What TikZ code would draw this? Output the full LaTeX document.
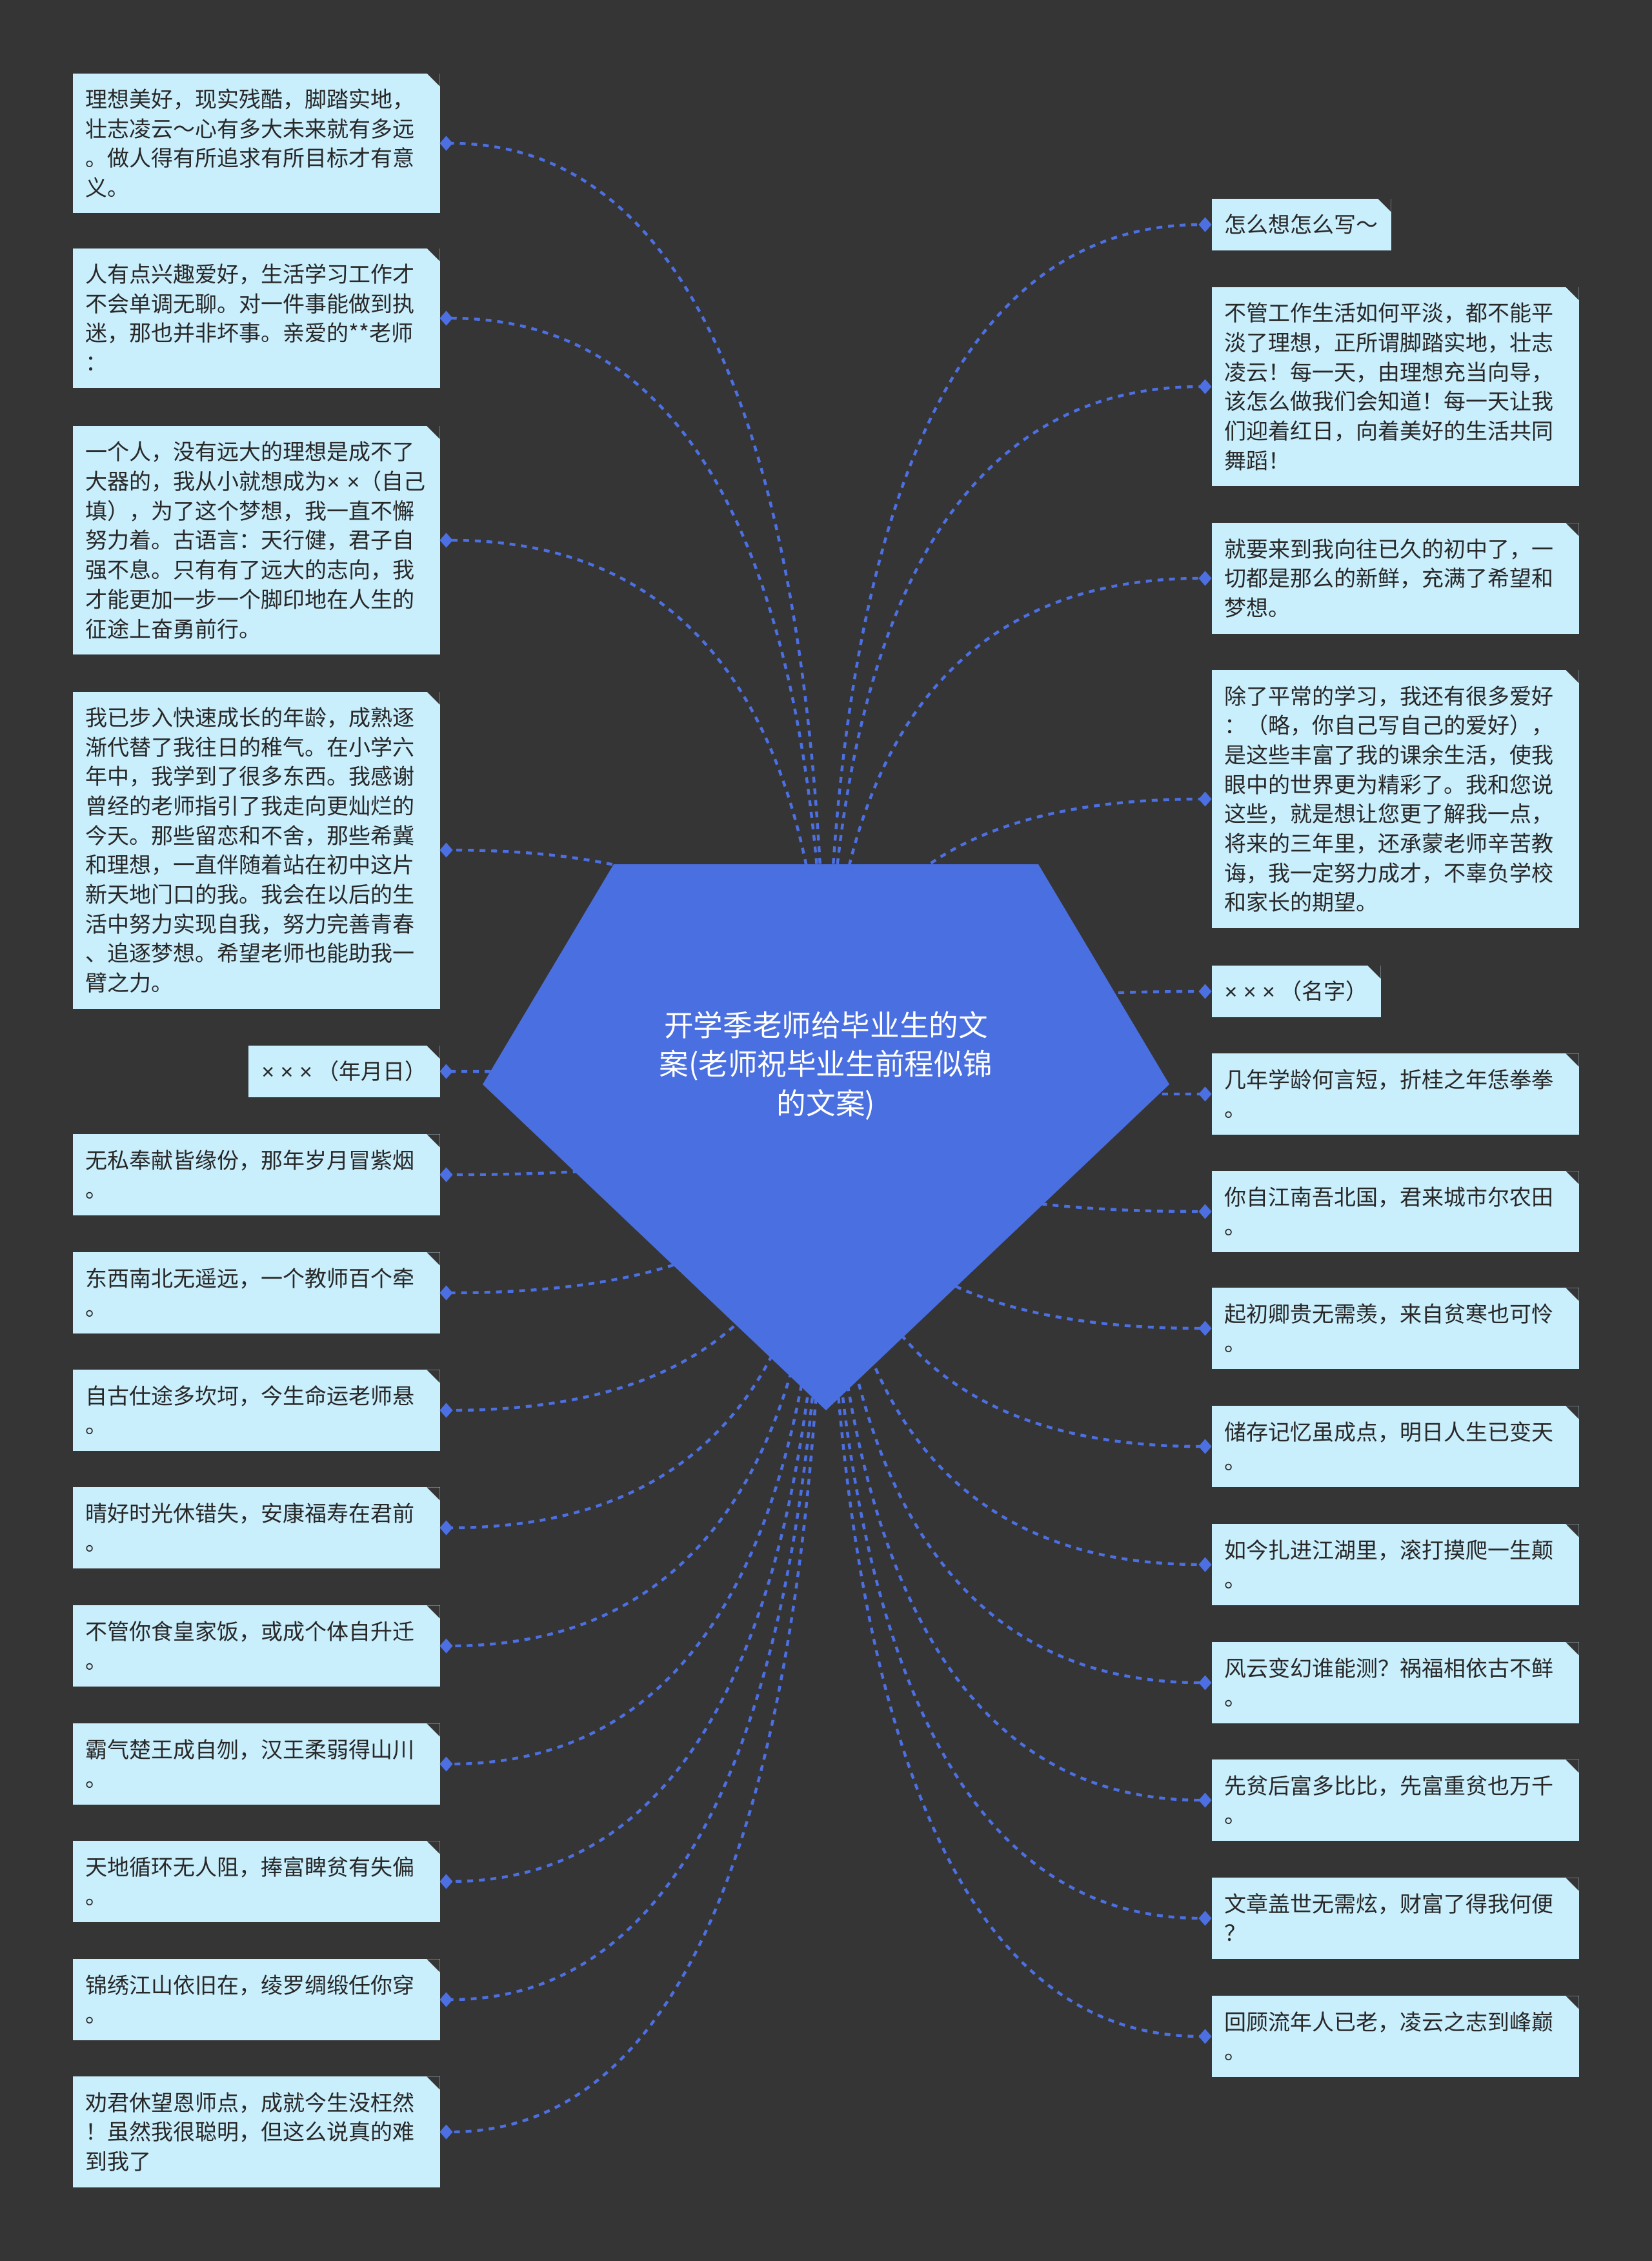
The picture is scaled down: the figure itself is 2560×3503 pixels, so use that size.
\documentclass[tikz,border=0pt]{standalone}
\usepackage{fontspec}
\setmainfont{Noto Sans CJK SC}
\newfontfamily\crossfont{Liberation Sans}
\usetikzlibrary{arrows.meta,calc}
\newcommand{\cardstrut}{\rule[-2.48pt]{0pt}{11.425pt}}
\newcommand{\titlestrut}{\rule[-3.22pt]{0pt}{15.1pt}}

\begin{document}
\begin{tikzpicture}[x=0.25pt,y=-0.25pt,
card/.style={fill={rgb, 255:red, 201; green, 238; blue, 252 }, text={rgb, 255:red, 40; green, 40; blue, 40 }, inner xsep=5pt, inner ysep=4.25pt, outer sep=0pt, font=\fontsize{8.5pt}{11.425pt}\selectfont, execute at begin node=\cardstrut, execute at end node=\cardstrut, path picture={\fill[fill={rgb, 255:red, 54; green, 53; blue, 54 }] (path picture bounding box.north east) -- ([xshift=-5pt]path picture bounding box.north east) -- ([yshift=-5pt]path picture bounding box.north east) -- cycle;}},
wide/.style={card, text width=132.25pt, align=left},
link/.style={draw={rgb, 255:red, 76; green, 112; blue, 226 }, line width=1.1pt, dash pattern=on 2.25pt off 2.25pt, -{Diamond[length=5pt,width=5.75pt]}},
gem/.style={fill={rgb, 255:red, 74; green, 111; blue, 225 }},
roottext/.style={text=white, align=center, font=\fontsize{11.4pt}{15.1pt}\selectfont, execute at begin node=\titlestrut, execute at end node=\titlestrut}]
\useasboundingbox (0,0) rectangle (2560,3503);
%Shape: Rectangle (background)
\fill[fill={rgb, 255:red, 54; green, 53; blue, 54 }] (0,0) rectangle (2560,3503);
\coordinate (root) at (1280,1680);

% Text Node
\node[wide, anchor=east] (l1) at (681.5,222) {理想美好，现实残酷，脚踏实地，\\壮志凌云～心有多大未来就有多远\\。做人得有所追求有所目标才有意\\义。};
% Text Node
\node[wide, anchor=east] (l2) at (681.5,493) {人有点兴趣爱好，生活学习工作才\\不会单调无聊。对一件事能做到执\\迷，那也并非坏事。亲爱的**老师\\：};
% Text Node
\node[wide, anchor=east] (l3) at (681.5,837) {一个人，没有远大的理想是成不了\\大器的，我从小就想成为{\crossfont × ×}（自己\\填），为了这个梦想，我一直不懈\\努力着。古语言：天行健，君子自\\强不息。只有有了远大的志向，我\\才能更加一步一个脚印地在人生的\\征途上奋勇前行。};
% Text Node
\node[wide, anchor=east] (l4) at (681.5,1317) {我已步入快速成长的年龄，成熟逐\\渐代替了我往日的稚气。在小学六\\年中，我学到了很多东西。我感谢\\曾经的老师指引了我走向更灿烂的\\今天。那些留恋和不舍，那些希冀\\和理想，一直伴随着站在初中这片\\新天地门口的我。我会在以后的生\\活中努力实现自我，努力完善青春\\、追逐梦想。希望老师也能助我一\\臂之力。};
% Text Node
\node[card, anchor=east] (l5) at (681.5,1660) {{\crossfont × × ×} （年月日）};
% Text Node
\node[wide, anchor=east] (l6) at (681.5,1820) {无私奉献皆缘份，那年岁月冒紫烟\\。};
% Text Node
\node[wide, anchor=east] (l7) at (681.5,2003) {东西南北无遥远，一个教师百个牵\\。};
% Text Node
\node[wide, anchor=east] (l8) at (681.5,2185) {自古仕途多坎坷，今生命运老师悬\\。};
% Text Node
\node[wide, anchor=east] (l9) at (681.5,2367) {晴好时光休错失，安康福寿在君前\\。};
% Text Node
\node[wide, anchor=east] (l10) at (681.5,2550) {不管你食皇家饭，或成个体自升迁\\。};
% Text Node
\node[wide, anchor=east] (l11) at (681.5,2733) {霸气楚王成自刎，汉王柔弱得山川\\。};
% Text Node
\node[wide, anchor=east] (l12) at (681.5,2915) {天地循环无人阻，捧富睥贫有失偏\\。};
% Text Node
\node[wide, anchor=east] (l13) at (681.5,3098) {锦绣江山依旧在，绫罗绸缎任你穿\\。};
% Text Node
\node[wide, anchor=east] (l14) at (681.5,3303) {劝君休望恩师点，成就今生没枉然\\！虽然我很聪明，但这么说真的难\\到我了};

% Text Node
\node[card, anchor=west] (r1) at (1877.5,348) {怎么想怎么写～};
% Text Node
\node[wide, anchor=west] (r2) at (1877.5,599) {不管工作生活如何平淡，都不能平\\淡了理想，正所谓脚踏实地，壮志\\凌云！每一天，由理想充当向导，\\该怎么做我们会知道！每一天让我\\们迎着红日，向着美好的生活共同\\舞蹈！};
% Text Node
\node[wide, anchor=west] (r3) at (1877.5,896) {就要来到我向往已久的初中了，一\\切都是那么的新鲜，充满了希望和\\梦想。};
% Text Node
\node[wide, anchor=west] (r4) at (1877.5,1238) {除了平常的学习，我还有很多爱好\\：（略，你自己写自己的爱好），\\是这些丰富了我的课余生活，使我\\眼中的世界更为精彩了。我和您说\\这些，就是想让您更了解我一点，\\将来的三年里，还承蒙老师辛苦教\\诲，我一定努力成才，不辜负学校\\和家长的期望。};
% Text Node
\node[card, anchor=west] (r5) at (1877.5,1536) {{\crossfont × × ×} （名字）};
% Text Node
\node[wide, anchor=west] (r6) at (1877.5,1695) {几年学龄何言短，折桂之年恁拳拳\\。};
% Text Node
\node[wide, anchor=west] (r7) at (1877.5,1877) {你自江南吾北国，君来城市尔农田\\。};
% Text Node
\node[wide, anchor=west] (r8) at (1877.5,2058) {起初卿贵无需羡，来自贫寒也可怜\\。};
% Text Node
\node[wide, anchor=west] (r9) at (1877.5,2241) {储存记忆虽成点，明日人生已变天\\。};
% Text Node
\node[wide, anchor=west] (r10) at (1877.5,2424) {如今扎进江湖里，滚打摸爬一生颠\\。};
% Text Node
\node[wide, anchor=west] (r11) at (1877.5,2607) {风云变幻谁能测？祸福相依古不鲜\\。};
% Text Node
\node[wide, anchor=west] (r12) at (1877.5,2789) {先贫后富多比比，先富重贫也万千\\。};
% Text Node
\node[wide, anchor=west] (r13) at (1877.5,2972) {文章盖世无需炫，财富了得我何便\\？};
% Text Node
\node[wide, anchor=west] (r14) at (1877.5,3155) {回顾流年人已老，凌云之志到峰巅\\。};

%Curve Lines
\draw[link] (root) .. controls ($(root)!.667!(root|-l1.east)$) and ($(l1.east)!.667!(root|-l1.east)$) .. (l1.east);
%Curve Lines
\draw[link] (root) .. controls ($(root)!.667!(root|-l2.east)$) and ($(l2.east)!.667!(root|-l2.east)$) .. (l2.east);
%Curve Lines
\draw[link] (root) .. controls ($(root)!.667!(root|-l3.east)$) and ($(l3.east)!.667!(root|-l3.east)$) .. (l3.east);
%Curve Lines
\draw[link] (root) .. controls ($(root)!.667!(root|-l4.east)$) and ($(l4.east)!.667!(root|-l4.east)$) .. (l4.east);
%Curve Lines
\draw[link] (root) .. controls ($(root)!.667!(root|-l5.east)$) and ($(l5.east)!.667!(root|-l5.east)$) .. (l5.east);
%Curve Lines
\draw[link] (root) .. controls ($(root)!.667!(root|-l6.east)$) and ($(l6.east)!.667!(root|-l6.east)$) .. (l6.east);
%Curve Lines
\draw[link] (root) .. controls ($(root)!.667!(root|-l7.east)$) and ($(l7.east)!.667!(root|-l7.east)$) .. (l7.east);
%Curve Lines
\draw[link] (root) .. controls ($(root)!.667!(root|-l8.east)$) and ($(l8.east)!.667!(root|-l8.east)$) .. (l8.east);
%Curve Lines
\draw[link] (root) .. controls ($(root)!.667!(root|-l9.east)$) and ($(l9.east)!.667!(root|-l9.east)$) .. (l9.east);
%Curve Lines
\draw[link] (root) .. controls ($(root)!.667!(root|-l10.east)$) and ($(l10.east)!.667!(root|-l10.east)$) .. (l10.east);
%Curve Lines
\draw[link] (root) .. controls ($(root)!.667!(root|-l11.east)$) and ($(l11.east)!.667!(root|-l11.east)$) .. (l11.east);
%Curve Lines
\draw[link] (root) .. controls ($(root)!.667!(root|-l12.east)$) and ($(l12.east)!.667!(root|-l12.east)$) .. (l12.east);
%Curve Lines
\draw[link] (root) .. controls ($(root)!.667!(root|-l13.east)$) and ($(l13.east)!.667!(root|-l13.east)$) .. (l13.east);
%Curve Lines
\draw[link] (root) .. controls ($(root)!.667!(root|-l14.east)$) and ($(l14.east)!.667!(root|-l14.east)$) .. (l14.east);
%Curve Lines
\draw[link] (root) .. controls ($(root)!.667!(root|-r1.west)$) and ($(r1.west)!.667!(root|-r1.west)$) .. (r1.west);
%Curve Lines
\draw[link] (root) .. controls ($(root)!.667!(root|-r2.west)$) and ($(r2.west)!.667!(root|-r2.west)$) .. (r2.west);
%Curve Lines
\draw[link] (root) .. controls ($(root)!.667!(root|-r3.west)$) and ($(r3.west)!.667!(root|-r3.west)$) .. (r3.west);
%Curve Lines
\draw[link] (root) .. controls ($(root)!.667!(root|-r4.west)$) and ($(r4.west)!.667!(root|-r4.west)$) .. (r4.west);
%Curve Lines
\draw[link] (root) .. controls ($(root)!.667!(root|-r5.west)$) and ($(r5.west)!.667!(root|-r5.west)$) .. (r5.west);
%Curve Lines
\draw[link] (root) .. controls ($(root)!.667!(root|-r6.west)$) and ($(r6.west)!.667!(root|-r6.west)$) .. (r6.west);
%Curve Lines
\draw[link] (root) .. controls ($(root)!.667!(root|-r7.west)$) and ($(r7.west)!.667!(root|-r7.west)$) .. (r7.west);
%Curve Lines
\draw[link] (root) .. controls ($(root)!.667!(root|-r8.west)$) and ($(r8.west)!.667!(root|-r8.west)$) .. (r8.west);
%Curve Lines
\draw[link] (root) .. controls ($(root)!.667!(root|-r9.west)$) and ($(r9.west)!.667!(root|-r9.west)$) .. (r9.west);
%Curve Lines
\draw[link] (root) .. controls ($(root)!.667!(root|-r10.west)$) and ($(r10.west)!.667!(root|-r10.west)$) .. (r10.west);
%Curve Lines
\draw[link] (root) .. controls ($(root)!.667!(root|-r11.west)$) and ($(r11.west)!.667!(root|-r11.west)$) .. (r11.west);
%Curve Lines
\draw[link] (root) .. controls ($(root)!.667!(root|-r12.west)$) and ($(r12.west)!.667!(root|-r12.west)$) .. (r12.west);
%Curve Lines
\draw[link] (root) .. controls ($(root)!.667!(root|-r13.west)$) and ($(r13.west)!.667!(root|-r13.west)$) .. (r13.west);
%Curve Lines
\draw[link] (root) .. controls ($(root)!.667!(root|-r14.west)$) and ($(r14.west)!.667!(root|-r14.west)$) .. (r14.west);

%Shape: Polygon (gem)
\fill[gem] (951,1339) -- (1609,1339) -- (1812,1680) -- (1280,2185) -- (748,1680) -- cycle;
% Text Node
\node[roottext] (title) at (1280,1653) {开学季老师给毕业生的文\\案(老师祝毕业生前程似锦\\的文案)};

\end{tikzpicture}
\end{document}
